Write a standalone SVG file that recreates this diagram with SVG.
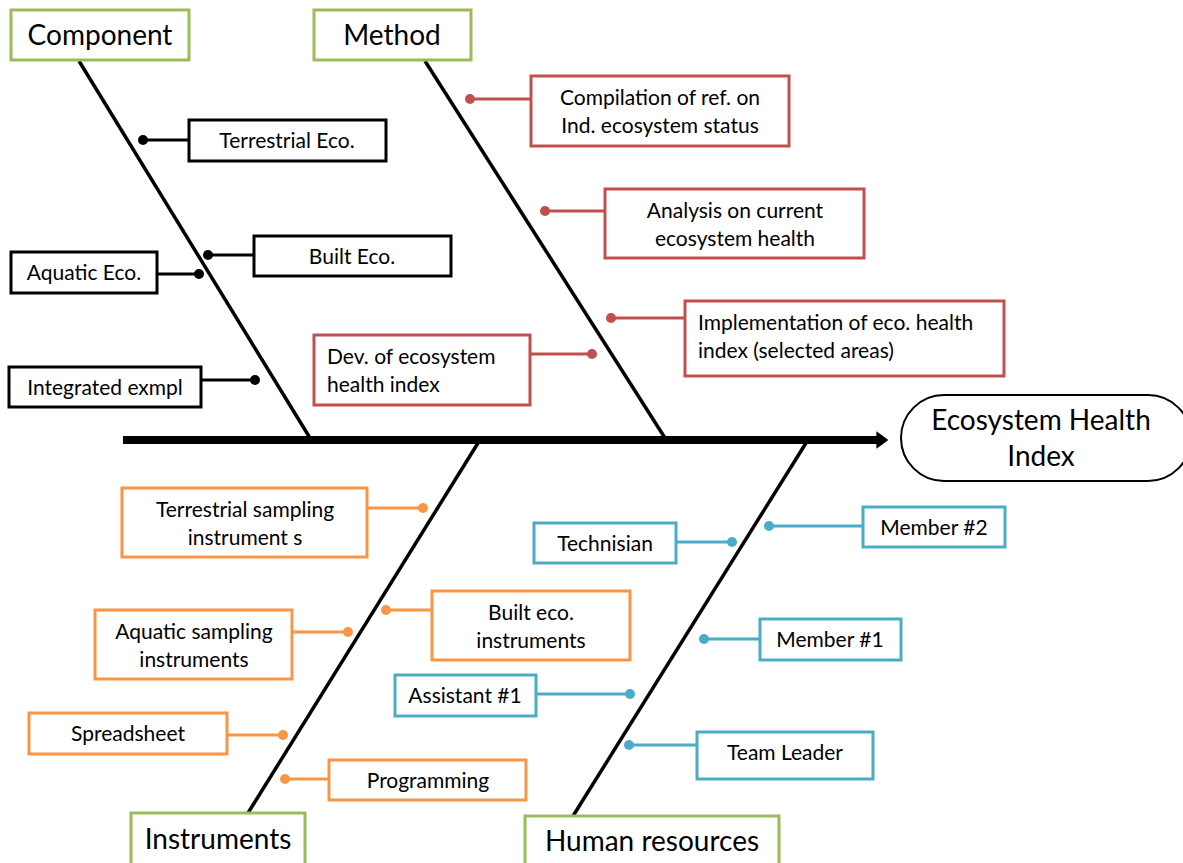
<svg xmlns="http://www.w3.org/2000/svg" width="1183" height="863" viewBox="0 0 1183 863">
  <style>
    text { font-family: Lato, "Open Sans", "Liberation Sans", sans-serif; fill: #000; text-anchor: middle; }
    .lbl { font-size: 21px; }
    .ttl { font-size: 28px; }
    .box { fill: #fff; stroke-width: 3; }
    .cat { stroke: #9BBB59; }
    .blk { stroke: #000; }
    .red { stroke: #C0504D; }
    .org { stroke: #F79646; }
    .blu { stroke: #4BACC6; }
    .bone { stroke: #000; stroke-width: 3.5; fill: none; }
    .lk { stroke-width: 3; fill: none; }
    .lk.blk { stroke: #000; }
    .lk.red { stroke: #C0504D; }
    .lk.org { stroke: #F79646; }
    .lk.blu { stroke: #4BACC6; }
    .d-blk { fill: #000; }
    .d-red { fill: #C0504D; }
    .d-org { fill: #F79646; }
    .d-blu { fill: #4BACC6; }
  </style>
  <defs>
    <marker id="head" markerWidth="2" markerHeight="2.4" refX="0.2" refY="1.1" orient="auto" markerUnits="strokeWidth">
      <path d="M0,0 L1.5,1.1 L0,2.2 Z" fill="#000"/>
    </marker>
  </defs>
  <rect width="1183" height="863" fill="#fff"/>

  <!-- spine and bones -->
  <g id="connectors">
    <line x1="123" y1="440" x2="878" y2="440" stroke="#000" stroke-width="8" marker-end="url(#head)"/>
    <line class="bone" x1="79" y1="61" x2="310" y2="438"/>
    <line class="bone" x1="425" y1="61" x2="665" y2="438"/>
    <line class="bone" x1="478" y1="443" x2="248" y2="813"/>
    <line class="bone" x1="806" y1="443" x2="573" y2="816"/>

    <!-- component links -->
    <line class="lk blk" x1="143" y1="140" x2="189" y2="140"/>
    <circle class="d-blk" cx="143" cy="140" r="5"/>
    <line class="lk blk" x1="208" y1="255" x2="254" y2="255"/>
    <circle class="d-blk" cx="208" cy="255" r="5"/>
    <line class="lk blk" x1="157" y1="274" x2="199" y2="274"/>
    <circle class="d-blk" cx="199" cy="274" r="5"/>
    <line class="lk blk" x1="201" y1="380" x2="255" y2="380"/>
    <circle class="d-blk" cx="255" cy="380" r="5"/>

    <!-- method links -->
    <line class="lk red" x1="470" y1="99" x2="531" y2="99"/>
    <circle class="d-red" cx="470" cy="99" r="5"/>
    <line class="lk red" x1="545" y1="211" x2="605" y2="211"/>
    <circle class="d-red" cx="545" cy="211" r="5"/>
    <line class="lk red" x1="611" y1="318" x2="685" y2="318"/>
    <circle class="d-red" cx="611" cy="318" r="5"/>
    <line class="lk red" x1="530" y1="354" x2="592" y2="354"/>
    <circle class="d-red" cx="592" cy="354" r="5"/>

    <!-- instrument links -->
    <line class="lk org" x1="367" y1="508" x2="423" y2="508"/>
    <circle class="d-org" cx="423" cy="508" r="5"/>
    <line class="lk org" x1="292" y1="632" x2="348" y2="632"/>
    <circle class="d-org" cx="348" cy="632" r="5"/>
    <line class="lk org" x1="386" y1="610" x2="432" y2="610"/>
    <circle class="d-org" cx="386" cy="610" r="5"/>
    <line class="lk org" x1="227" y1="735" x2="283" y2="735"/>
    <circle class="d-org" cx="283" cy="735" r="5"/>
    <line class="lk org" x1="285" y1="779" x2="329" y2="779"/>
    <circle class="d-org" cx="285" cy="779" r="5"/>

    <!-- human resources links -->
    <line class="lk blu" x1="676" y1="542" x2="732" y2="542"/>
    <circle class="d-blu" cx="732" cy="542" r="5"/>
    <line class="lk blu" x1="769" y1="526" x2="863" y2="526"/>
    <circle class="d-blu" cx="769" cy="526" r="5"/>
    <line class="lk blu" x1="704" y1="639" x2="760" y2="639"/>
    <circle class="d-blu" cx="704" cy="639" r="5"/>
    <line class="lk blu" x1="536" y1="694" x2="630" y2="694"/>
    <circle class="d-blu" cx="630" cy="694" r="5"/>
    <line class="lk blu" x1="629" y1="745" x2="697" y2="745"/>
    <circle class="d-blu" cx="629" cy="745" r="5"/>
  </g>

  <!-- head -->
  <g id="head-node">
    <rect x="901" y="395" width="290" height="86" rx="43" fill="#fff" stroke="#000" stroke-width="2"/>
    <text class="ttl" x="1041" y="430">Ecosystem Health</text>
    <text class="ttl" x="1041" y="466">Index</text>
  </g>

  <!-- category boxes -->
  <g id="cat-component">
    <rect class="box cat" x="11" y="10" width="178" height="50"/>
    <text class="ttl" x="100" y="45">Component</text>
  </g>
  <g id="cat-method">
    <rect class="box cat" x="314" y="10" width="157" height="50"/>
    <text class="ttl" x="392" y="45">Method</text>
  </g>
  <g id="cat-instruments">
    <rect class="box cat" x="131" y="813" width="174" height="60"/>
    <text class="ttl" x="218" y="849">Instruments</text>
  </g>
  <g id="cat-human">
    <rect class="box cat" x="525" y="816" width="254" height="60"/>
    <text class="ttl" x="652" y="851">Human resources</text>
  </g>

  <!-- component causes -->
  <g id="terrestrial-eco">
    <rect class="box blk" x="189" y="120" width="197" height="41"/>
    <text class="lbl" x="287" y="148">Terrestrial Eco.</text>
  </g>
  <g id="built-eco">
    <rect class="box blk" x="254" y="236" width="197" height="40"/>
    <text class="lbl" x="352" y="264">Built Eco.</text>
  </g>
  <g id="aquatic-eco">
    <rect class="box blk" x="11" y="252" width="146" height="41"/>
    <text class="lbl" x="84" y="280">Aquatic Eco.</text>
  </g>
  <g id="integrated">
    <rect class="box blk" x="9" y="367" width="192" height="40"/>
    <text class="lbl" x="105" y="395">Integrated exmpl</text>
  </g>

  <!-- method causes -->
  <g id="compilation">
    <rect class="box red" x="531" y="76" width="258" height="70"/>
    <text class="lbl" x="660" y="105">Compilation of ref. on</text>
    <text class="lbl" x="660" y="133">Ind. ecosystem status</text>
  </g>
  <g id="analysis">
    <rect class="box red" x="605" y="189" width="259" height="69"/>
    <text class="lbl" x="735" y="218">Analysis on current</text>
    <text class="lbl" x="735" y="246">ecosystem health</text>
  </g>
  <g id="implementation">
    <rect class="box red" x="685" y="301" width="319" height="75"/>
    <text class="lbl" x="698" y="330" style="text-anchor:start">Implementation of eco. health</text>
    <text class="lbl" x="698" y="358" style="text-anchor:start">index (selected areas)</text>
  </g>
  <g id="development">
    <rect class="box red" x="314" y="335" width="216" height="70"/>
    <text class="lbl" x="327" y="364" style="text-anchor:start">Dev. of ecosystem</text>
    <text class="lbl" x="327" y="392" style="text-anchor:start">health index</text>
  </g>

  <!-- instrument causes -->
  <g id="terrestrial-sampling">
    <rect class="box org" x="122" y="488" width="245" height="69"/>
    <text class="lbl" x="245" y="517">Terrestrial sampling</text>
    <text class="lbl" x="245" y="545">instrument s</text>
  </g>
  <g id="aquatic-sampling">
    <rect class="box org" x="95" y="610" width="197" height="69"/>
    <text class="lbl" x="194" y="639">Aquatic sampling</text>
    <text class="lbl" x="194" y="667">instruments</text>
  </g>
  <g id="built-instruments">
    <rect class="box org" x="432" y="591" width="198" height="69"/>
    <text class="lbl" x="531" y="620">Built eco.</text>
    <text class="lbl" x="531" y="648">instruments</text>
  </g>
  <g id="spreadsheet">
    <rect class="box org" x="29" y="713" width="198" height="41"/>
    <text class="lbl" x="128" y="741">Spreadsheet</text>
  </g>
  <g id="programming">
    <rect class="box org" x="329" y="760" width="197" height="40"/>
    <text class="lbl" x="428" y="788">Programming</text>
  </g>

  <!-- human resource causes -->
  <g id="technisian">
    <rect class="box blu" x="534" y="523" width="142" height="40"/>
    <text class="lbl" x="605" y="551">Technisian</text>
  </g>
  <g id="member-2">
    <rect class="box blu" x="863" y="507" width="142" height="40"/>
    <text class="lbl" x="934" y="535">Member #2</text>
  </g>
  <g id="member-1">
    <rect class="box blu" x="760" y="619" width="141" height="41"/>
    <text class="lbl" x="830" y="647">Member #1</text>
  </g>
  <g id="assistant-1">
    <rect class="box blu" x="395" y="675" width="141" height="41"/>
    <text class="lbl" x="465" y="703">Assistant #1</text>
  </g>
  <g id="team-leader">
    <rect class="box blu" x="697" y="732" width="176" height="47"/>
    <text class="lbl" x="785" y="760">Team Leader</text>
  </g>
</svg>
